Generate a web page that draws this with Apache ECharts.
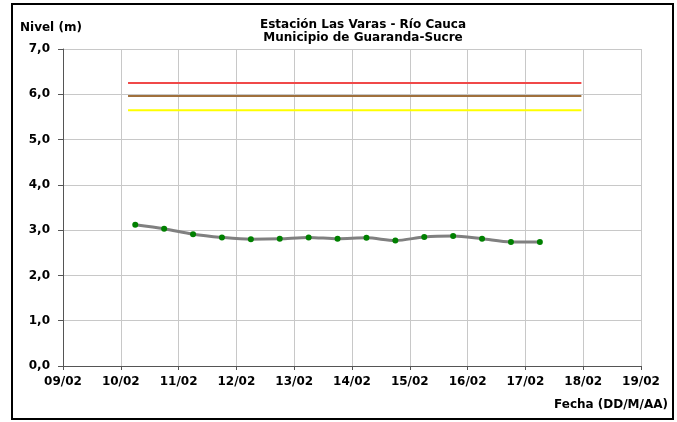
<!DOCTYPE html>
<html>
<head>
<meta charset="utf-8">
<script src="https://cdn.jsdelivr.net/npm/echarts@6/dist/echarts.min.js"></script>
<style>
  html, body { margin: 0; padding: 0; background: #fff; }
  #chart { width: 677px; height: 422px; }
</style>
</head>
<body>
<div id="chart"></div>
<script>
// Lecturas de nivel (DD/MM HH:mm) en la estación Las Varas
const fechas = [
  '10/02 06:00', '10/02 18:00', '11/02 06:00', '11/02 18:00',
  '12/02 06:00', '12/02 18:00', '13/02 06:00', '13/02 18:00',
  '14/02 06:00', '14/02 18:00', '15/02 06:00', '15/02 18:00',
  '16/02 06:00', '16/02 18:00', '17/02 06:00'
];
const niveles = [3.12, 3.03, 2.91, 2.84, 2.80, 2.81, 2.84, 2.81, 2.83, 2.77, 2.85, 2.87, 2.81, 2.74, 2.74];

// Umbrales de alerta (inicio y fin del tramo dibujado)
const umbralTramo = ['10/02 03:00', '17/02 23:15'];
const umbralRojo = 6.25;
const umbralCafe = 5.96;
const umbralAmarillo = 5.65;

// Rango del eje de fechas (días de febrero)
const diaMin = 9;
const diaMax = 19;

function aDia(s) {
  const [fecha, hora] = s.split(' ');
  const dia = parseInt(fecha.split('/')[0], 10);
  const [h, m] = hora.split(':').map(Number);
  return dia + (h + m / 60) / 24;
}

const serieNivel = fechas.map((f, i) => [aDia(f), niveles[i]]);
const tramo = umbralTramo.map(aDia);
const lineaUmbral = (v) => tramo.map(d => [d, v]);

const chart = echarts.init(document.getElementById('chart'), null, { renderer: 'canvas' });
const fuente = '"DejaVu Sans", Verdana, sans-serif';

chart.setOption({
  animation: false,
  backgroundColor: '#ffffff',
  title: {
    text: 'Estación Las Varas - Río Cauca\nMunicipio de Guaranda-Sucre',
    left: 358,
    top: 13,
    textAlign: 'center',
    textStyle: { fontFamily: fuente, fontSize: 12, fontWeight: 'bold', color: '#000', lineHeight: 13 }
  },
  grid: { left: 63, right: 36, top: 49, bottom: 56 },
  xAxis: {
    type: 'value',
    min: diaMin,
    max: diaMax,
    interval: 1,
    axisLine: { lineStyle: { color: '#555', width: 1 } },
    axisTick: { show: true, length: 4, lineStyle: { color: '#555' } },
    splitLine: { show: true, lineStyle: { color: '#c8c8c8', width: 1 } },
    axisLabel: {
      margin: 10,
      fontFamily: fuente, fontSize: 12, fontWeight: 'bold', color: '#000',
      formatter: v => String(Math.round(v)).padStart(2, '0') + '/02'
    }
  },
  yAxis: {
    type: 'value',
    min: 0,
    max: 7,
    interval: 1,
    axisLine: { show: true, lineStyle: { color: '#555', width: 1 } },
    axisTick: { show: true, length: 5, lineStyle: { color: '#555' } },
    splitLine: { show: true, lineStyle: { color: '#c8c8c8', width: 1 } },
    axisLabel: {
      margin: 13,
      fontFamily: fuente, fontSize: 12, fontWeight: 'bold', color: '#000',
      formatter: v => v.toFixed(1).replace('.', ',')
    }
  },
  graphic: [
    {
      type: 'rect',
      shape: { x: 12, y: 4, width: 661, height: 415 },
      style: { fill: 'none', stroke: '#000', lineWidth: 2 },
      silent: true
    },
    {
      type: 'text',
      left: 20, top: 22,
      style: { text: 'Nivel (m)', font: 'bold 12px ' + fuente, fill: '#000' }
    },
    {
      type: 'text',
      right: 9, top: 399,
      style: { text: 'Fecha (DD/M/AA)', font: 'bold 12px ' + fuente, fill: '#000' }
    }
  ],
  series: [
    {
      type: 'line',
      data: lineaUmbral(umbralRojo),
      symbol: 'none',
      lineStyle: { color: '#f04848', width: 2 },
      z: 2
    },
    {
      type: 'line',
      data: lineaUmbral(umbralCafe),
      symbol: 'none',
      lineStyle: { color: '#a0703c', width: 2 },
      z: 2
    },
    {
      type: 'line',
      data: lineaUmbral(umbralAmarillo),
      symbol: 'none',
      lineStyle: { color: '#ffff00', width: 2 },
      z: 2
    },
    {
      type: 'line',
      data: serieNivel,
      smooth: 0.3,
      symbol: 'circle',
      symbolSize: 6,
      itemStyle: { color: '#008000', borderWidth: 0 },
      lineStyle: { color: '#808080', width: 3 },
      z: 3
    }
  ]
});
</script>
</body>
</html>
